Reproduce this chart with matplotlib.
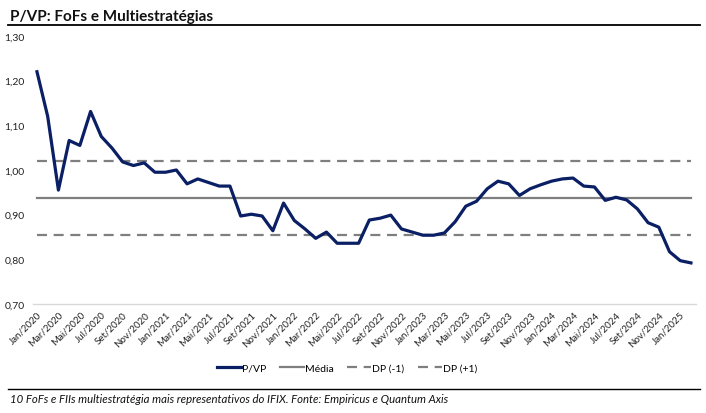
import matplotlib
matplotlib.use("Agg")
import matplotlib.pyplot as plt
from matplotlib.lines import Line2D

plt.rcParams['font.family'] = ['Lato', 'DejaVu Sans']

### Data ###
months_pt = ["Jan", "Fev", "Mar", "Abr", "Mai", "Jun",
             "Jul", "Ago", "Set", "Out", "Nov", "Dez"]
# Jan/2020 .. Fev/2025
labels = [m + "/" + str(y) for y in range(2020, 2026) for m in months_pt][:62]

pvp = [1.220, 1.120, 0.955, 1.066, 1.055, 1.131, 1.075, 1.049, 1.018, 1.010,
       1.016, 0.995, 0.995, 1.000, 0.969, 0.980, 0.972, 0.964, 0.964, 0.897,
       0.901, 0.897, 0.864, 0.926, 0.887, 0.868, 0.847, 0.861, 0.836, 0.836,
       0.836, 0.888, 0.892, 0.899, 0.868, 0.861, 0.854, 0.854, 0.859, 0.884,
       0.919, 0.930, 0.958, 0.975, 0.969, 0.943, 0.958, 0.967, 0.975, 0.980,
       0.982, 0.964, 0.962, 0.932, 0.939, 0.933, 0.913, 0.882, 0.872, 0.817,
       0.797, 0.792]

media = 0.938
dp = 0.083

title = "P/VP: FoFs e Multiestratégias"
footnote = "10 FoFs e FIIs multiestratégia mais representativos do IFIX. Fonte: Empiricus e Quantum Axis"

navy = "#0a1f64"
gray = "#7f7f7f"

### Plot ###
fig = plt.figure(figsize=(7.06, 4.14), dpi=100)
ax = fig.add_axes([33 / 706, 1 - 305 / 414, (696 - 33) / 706, (305 - 37) / 414])

x = list(range(len(pvp)))
ax.plot(x, [media] * len(x), color=gray, lw=1.6, label="Média")
ax.plot(x, [media - dp] * len(x), color=gray, lw=1.6, dashes=(4.5, 3), label="DP (-1)")
ax.plot(x, [media + dp] * len(x), color=gray, lw=1.6, dashes=(4.5, 3), label="DP (+1)")
ax.plot(x, pvp, color=navy, lw=2.3, solid_joinstyle='round', label="P/VP", zorder=5)

ax.set_xlim(-0.37, 61.47)
ax.set_ylim(0.70, 1.30)

yt = [0.70, 0.80, 0.90, 1.00, 1.10, 1.20, 1.30]
ax.set_yticks(yt)
ax.set_yticklabels([("%.2f" % v).replace(".", ",") for v in yt], fontsize=7.5, color="#222222")
ax.set_xticks(x[::2])
ax.set_xticklabels(labels[::2], rotation=45, ha='right', rotation_mode='anchor',
                   fontsize=7, color="#222222")
ax.tick_params(axis='both', length=0, pad=4)
ax.tick_params(axis='y', pad=6)

for s in ['top', 'right', 'left']:
    ax.spines[s].set_visible(False)
ax.spines['bottom'].set_color("#d9d9d9")
ax.spines['bottom'].set_linewidth(1.0)

handles = [
    Line2D([], [], color=navy, lw=2.3),
    Line2D([], [], color=gray, lw=1.6),
    Line2D([], [], color=gray, lw=1.6, dashes=(4.5, 3)),
    Line2D([], [], color=gray, lw=1.6, dashes=(4.5, 3)),
]
fig.legend(handles, ["P/VP", "Média", "DP (-1)", "DP (+1)"], loc='center',
           bbox_to_anchor=(347 / 706, 1 - 369 / 414), ncol=4, frameon=False,
           fontsize=7.5, handlelength=2.3, handletextpad=0.1, columnspacing=1.3)

# title and rules
fig.text(10 / 706, 1 - 17 / 414, title, fontsize=11, fontweight='bold',
         va='center', ha='left', color="#111111")
fig.add_artist(Line2D([8 / 706, 700 / 706], [1 - 26 / 414, 1 - 26 / 414],
                      color="black", lw=1.3))
fig.add_artist(Line2D([8 / 706, 700 / 706], [1 - 390 / 414, 1 - 390 / 414],
                      color="black", lw=1.0))
fig.text(10 / 706, 1 - 400 / 414, footnote, fontsize=8.2, style='italic',
         va='center', ha='left', color="#111111")

fig.savefig("out.png", dpi=100)
